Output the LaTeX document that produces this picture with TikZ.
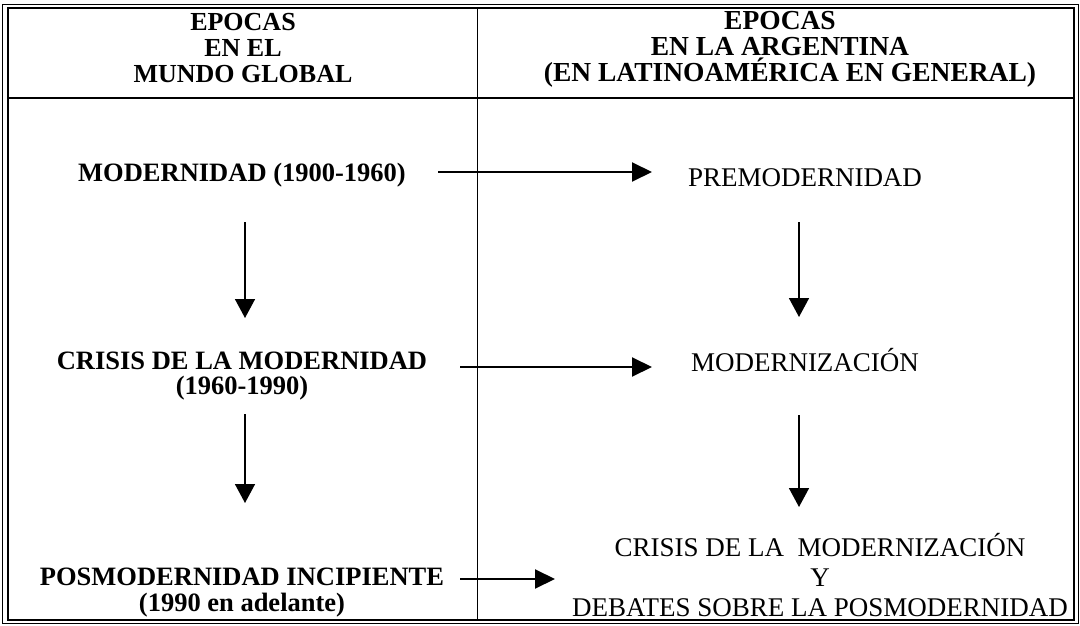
\documentclass[tikz,border=0pt]{standalone}
\usepackage{fontspec}
\setmainfont{Liberation Serif}
\usetikzlibrary{arrows.meta,calc}
\lineskiplimit=-100pt
\begin{document}
\begin{tikzpicture}[x=1pt,y=-1pt,
  txt/.style={inner sep=0pt,align=center,font=\fontsize{27}{30}\selectfont},
  hdrl/.style={inner sep=0pt,align=center,font=\fontsize{26}{26}\selectfont\bfseries},
  hdrr/.style={inner sep=0pt,align=center,font=\fontsize{27.5}{26}\selectfont\bfseries},
  btxt/.style={inner sep=0pt,align=center,font=\fontsize{26.5}{25.5}\selectfont\bfseries},
  harrow/.style={line width=2pt,-{Triangle[length=20pt,width=19pt]}},
  varrow/.style={line width=1.6pt,-{Triangle[length=19pt,width=20pt]}}]
\useasboundingbox (0,0) rectangle (1080,626);
% table frame
\draw[line width=0.8pt] (2,4) rectangle (1078,623);
\draw[line width=1.2pt] (8,8) rectangle (1074,620);
\draw[line width=1.2pt] (8,98) -- (1074,98);
\draw[line width=0.9pt] (477,8) -- (477,620);
% header
\node[hdrl] (h1) at (243,48) {EPOCAS\\EN EL\\MUNDO GLOBAL};
\node[hdrr] (h2) at (780,49) {EPOCAS\\EN LA ARGENTINA\\\hspace*{20pt}(EN LATINOAMÉRICA EN GENERAL)};
% left column
\node[btxt] (m1) at (242,175) {MODERNIDAD (1900-1960)};
\node[btxt] (m2) at (242,376) {CRISIS DE LA MODERNIDAD\\(1960-1990)};
\node[btxt] (m3) at (242,592.5) {POSMODERNIDAD INCIPIENTE\\(1990 en adelante)};
% right column
\node[txt] (r1) at (805,178) {PREMODERNIDAD};
\node[txt] (r2) at (805,360) {MODERNIZACIÓN};
\node[txt] (r3) at (820,575) {CRISIS DE LA\ \ MODERNIZACIÓN\\Y\\DEBATES SOBRE LA POSMODERNIDAD};
% horizontal arrows
\draw[harrow] ($(m1.center)+(196,-3)$) -- ($(r1.center)+(-153,-6)$);
\draw[harrow] ($(m2.center)+(218,-9)$) -- ($(r2.center)+(-153,7)$);
\draw[harrow] ($(m3.center)+(218,-13.5)$) -- ($(r3.center)+(-265,4)$);
% vertical arrows
\draw[varrow] ($(m1.center)+(3,47)$) -- ($(m2.center)+(3,-58)$);
\draw[varrow] ($(m2.center)+(3,38)$) -- ($(m3.center)+(3,-89.5)$);
\draw[varrow] ($(r1.center)+(-6,44)$) -- ($(r2.center)+(-6,-43)$);
\draw[varrow] ($(r2.center)+(-6,55)$) -- ($(r3.center)+(-21,-68)$);
\end{tikzpicture}
\end{document}
